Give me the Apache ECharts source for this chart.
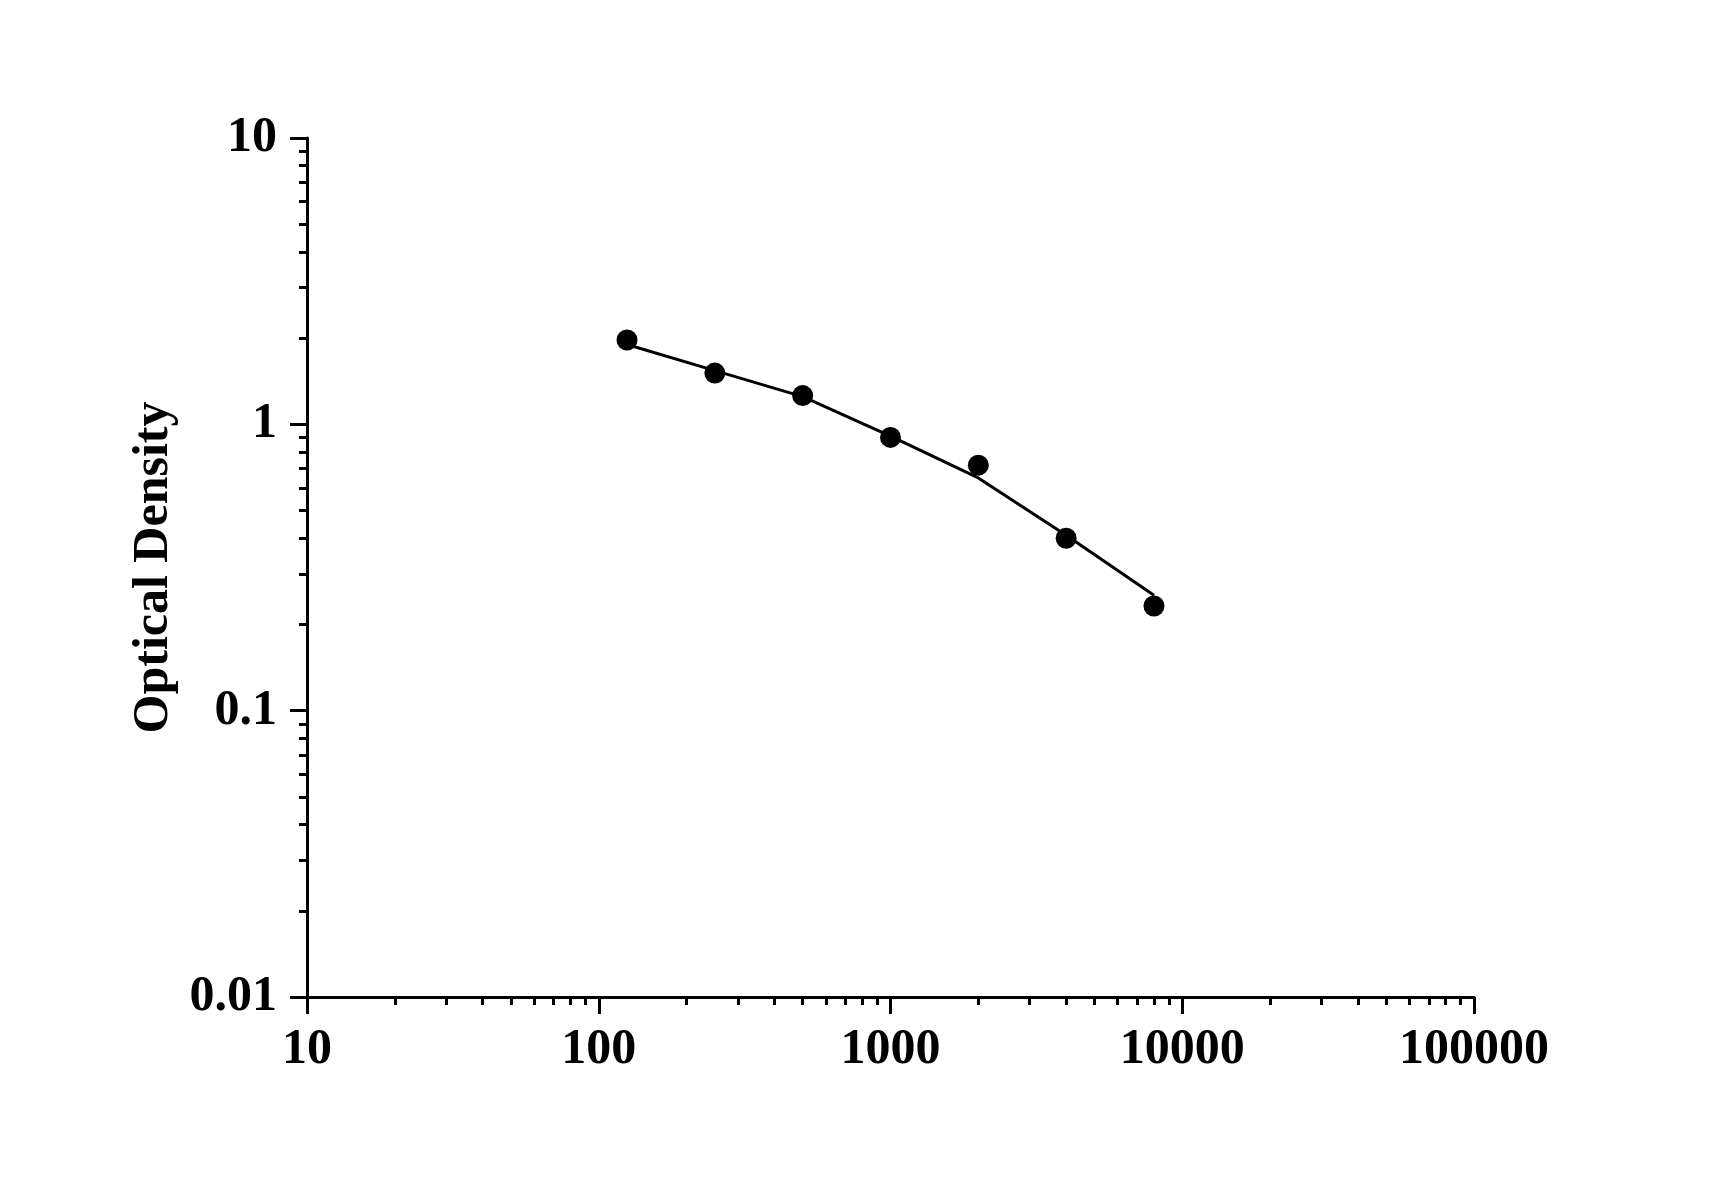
<!DOCTYPE html>
<html>
<head>
<meta charset="utf-8">
<title>Optical Density standard curve</title>
<script src="https://cdn.jsdelivr.net/npm/echarts@6/dist/echarts.min.js"></script>
<style>
  html, body { margin: 0; padding: 0; background: #fff; }
  #main { width: 1712px; height: 1196px; }
</style>
</head>
<body>
<div id="main"></div>
<script>
// standard concentrations (x) and OD readings
var concentrations = [125, 250, 500, 1000, 2000, 4000, 8000];
var odMeasured = [1.97, 1.51, 1.26, 0.90, 0.72, 0.40, 0.232];
// fitted curve values at the same concentrations
var odFit = [1.90, 1.54, 1.25, 0.91, 0.65, 0.41, 0.253];

var xTicks = [10, 100, 1000, 10000, 100000];
var yTicks = [0.01, 0.1, 1, 10];

function pairs(xs, ys) {
  return xs.map(function (x, i) { return [x, ys[i]]; });
}

var font = 'Liberation Serif';

var myChart = echarts.init(document.getElementById('main'));
var option = {
  backgroundColor: '#ffffff',
  animation: false,
  grid: { left: 307, right: 238, top: 138, bottom: 199 },
  xAxis: {
    type: 'log',
    logBase: 10,
    min: xTicks[0],
    max: xTicks[xTicks.length - 1],
    interval: 1,
    axisLine: { onZero: false, lineStyle: { color: '#000', width: 3 } },
    axisTick: { show: true, inside: false, length: 17, lineStyle: { color: '#000', width: 3 } },
    minorTick: { show: true, splitNumber: 9, length: 8, lineStyle: { color: '#000', width: 3 } },
    splitLine: { show: false },
    axisLabel: {
      margin: 28,
      color: '#000',
      fontFamily: font,
      fontWeight: 'bold',
      fontSize: 50,
      formatter: function (v) { return String(Math.round(v)); }
    }
  },
  yAxis: {
    type: 'log',
    logBase: 10,
    min: yTicks[0],
    max: yTicks[yTicks.length - 1],
    interval: 1,
    name: 'Optical Density',
    nameLocation: 'middle',
    nameGap: 124,
    nameTextStyle: {
      color: '#000',
      fontFamily: font,
      fontWeight: 'bold',
      fontSize: 50
    },
    axisLine: { onZero: false, lineStyle: { color: '#000', width: 3 } },
    axisTick: { show: true, inside: false, length: 17, lineStyle: { color: '#000', width: 3 } },
    minorTick: { show: true, splitNumber: 9, length: 8, lineStyle: { color: '#000', width: 3 } },
    splitLine: { show: false },
    axisLabel: {
      margin: 30,
      color: '#000',
      fontFamily: font,
      fontWeight: 'bold',
      fontSize: 50,
      formatter: function (v) { return String(v); }
    }
  },
  series: [
    {
      name: 'fit',
      type: 'line',
      data: pairs(concentrations, odFit),
      showSymbol: false,
      symbol: 'none',
      lineStyle: { color: '#000', width: 3 },
      z: 2
    },
    {
      name: 'measured',
      type: 'scatter',
      data: pairs(concentrations, odMeasured),
      symbol: 'circle',
      symbolSize: 21,
      itemStyle: { color: '#000', opacity: 1 },
      z: 3
    }
  ]
};
myChart.setOption(option);
</script>
</body>
</html>
